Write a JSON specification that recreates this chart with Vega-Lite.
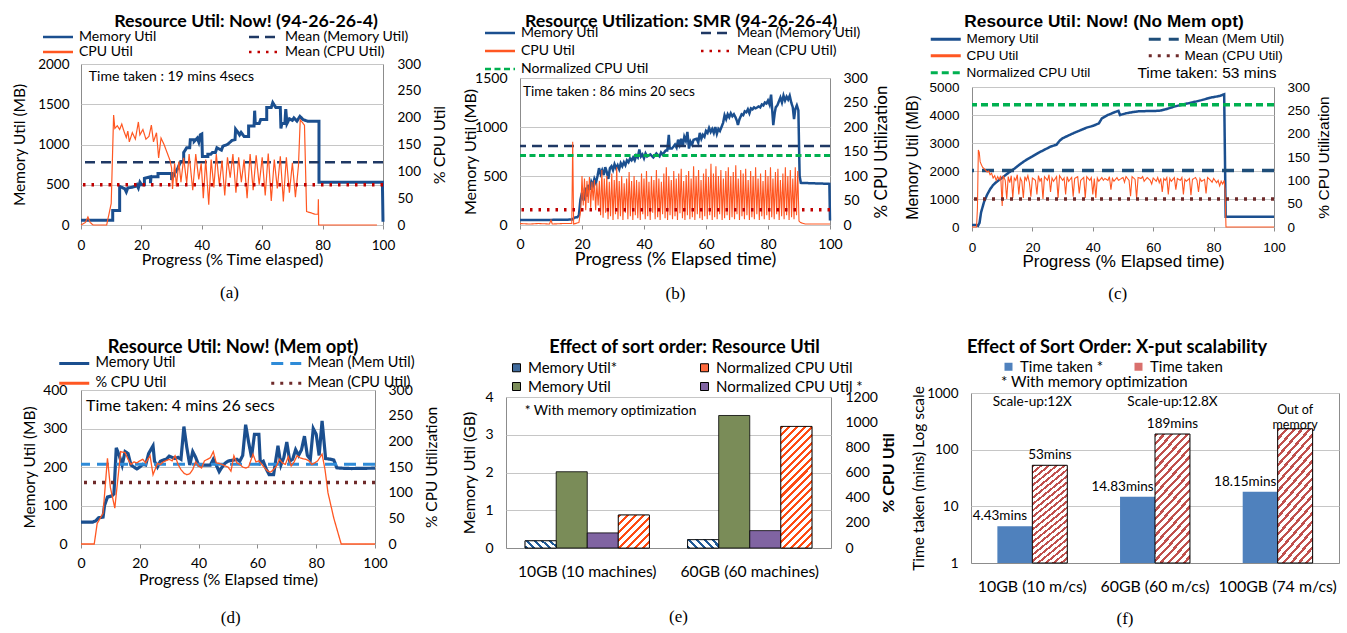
{
"$schema": "https://vega.github.io/schema/vega-lite/v6.json",
"padding": {"left": 11, "top": 11, "right": 5, "bottom": 5},
"background": "white",
"config": {
  "font": "Lato",
  "view": {"stroke": "#8C8C8C", "strokeWidth": 1},
  "axis": {"labelColor": "#000", "titleColor": "#000", "titleFontWeight": "normal", "labelFontSize": 13.5, "titleFontSize": 15.5, "gridColor": "#C6C6C6", "domain": false, "labelFlush": false, "labelOverlap": false, "tickColor": "#8C8C8C"},
  "title": {"fontSize": 17.8, "fontWeight": "bold", "color": "#000", "anchor": "middle"},
  "legend": {"labelColor": "#000", "padding": 0, "labelLimit": 300, "direction": "horizontal"}
},
"datasets": {
  "a_mem": [{"x":0,"y":60},{"x":10.5,"y":60},{"x":10.5,"y":180},{"x":12.8,"y":180},{"x":12.8,"y":480},{"x":14.5,"y":450},{"x":15,"y":410},{"x":15.5,"y":460},{"x":17,"y":470},{"x":18,"y":480},{"x":18.5,"y":500},{"x":19,"y":460},{"x":19.5,"y":530},{"x":20,"y":500},{"x":21,"y":500},{"x":21,"y":580},{"x":23,"y":600},{"x":23,"y":520},{"x":23.2,"y":600},{"x":25.5,"y":600},{"x":25.5,"y":640},{"x":30,"y":640},{"x":30,"y":560},{"x":31,"y":640},{"x":32,"y":700},{"x":33,"y":790},{"x":34,"y":790},{"x":34,"y":900},{"x":35,"y":960},{"x":36,"y":960},{"x":36.2,"y":1060},{"x":37.5,"y":1060},{"x":37.5,"y":1040},{"x":38.5,"y":1080},{"x":39,"y":1030},{"x":39.5,"y":1120},{"x":40,"y":1130},{"x":40.2,"y":850},{"x":42,"y":850},{"x":42,"y":880},{"x":43,"y":880},{"x":43.5,"y":900},{"x":44.5,"y":900},{"x":45,"y":960},{"x":46,"y":940},{"x":46.5,"y":930},{"x":47,"y":980},{"x":48.5,"y":1000},{"x":50,"y":1050},{"x":51,"y":1060},{"x":51.2,"y":1190},{"x":52,"y":1150},{"x":52.5,"y":1120},{"x":53,"y":1150},{"x":54,"y":1100},{"x":55.5,"y":1100},{"x":55.5,"y":1230},{"x":57.3,"y":1230},{"x":57.5,"y":1420},{"x":57.7,"y":1260},{"x":59,"y":1260},{"x":59.5,"y":1310},{"x":61.5,"y":1310},{"x":61.5,"y":1460},{"x":63,"y":1460},{"x":63.5,"y":1520},{"x":64.5,"y":1460},{"x":66,"y":1460},{"x":66.2,"y":1200},{"x":66.5,"y":1260},{"x":67.5,"y":1260},{"x":67.8,"y":1440},{"x":68.2,"y":1260},{"x":69,"y":1320},{"x":70,"y":1300},{"x":70.5,"y":1330},{"x":71.5,"y":1290},{"x":72.5,"y":1350},{"x":73.5,"y":1310},{"x":75,"y":1290},{"x":78.8,"y":1290},{"x":78.8,"y":530},{"x":99.8,"y":530},{"x":100,"y":40}],
  "a_cpu": [{"x":0,"y":0},{"x":1.5,"y":5},{"x":2.3,"y":15},{"x":3,"y":5},{"x":4,"y":0},{"x":8.5,"y":0},{"x":10,"y":40},{"x":10.8,"y":205},{"x":11.2,"y":180},{"x":12,"y":185},{"x":12.8,"y":178},{"x":13.5,"y":188},{"x":14.2,"y":175},{"x":15,"y":163},{"x":15.5,"y":175},{"x":16,"y":155},{"x":17,"y":172},{"x":18,"y":160},{"x":19,"y":192},{"x":19.5,"y":168},{"x":20.5,"y":178},{"x":21.5,"y":160},{"x":22.5,"y":165},{"x":23.3,"y":186},{"x":24,"y":155},{"x":25,"y":172},{"x":25.7,"y":125},{"x":26.5,"y":162},{"x":27.5,"y":150},{"x":28.5,"y":135},{"x":29.5,"y":120},{"x":30,"y":106},{"x":30.3,"y":67},{"x":31,"y":115},{"x":31.6,"y":72},{"x":32.4,"y":118},{"x":33.1,"y":80},{"x":34,"y":125},{"x":35,"y":78},{"x":35.8,"y":132},{"x":37,"y":65},{"x":38,"y":132},{"x":39,"y":85},{"x":39.8,"y":115},{"x":40.5,"y":50},{"x":41.3,"y":122},{"x":42.3,"y":38},{"x":43.1,"y":122},{"x":44,"y":70},{"x":44.8,"y":132},{"x":45.8,"y":75},{"x":46.7,"y":120},{"x":47.6,"y":55},{"x":48.5,"y":126},{"x":49.4,"y":88},{"x":50.3,"y":132},{"x":51.3,"y":60},{"x":52.2,"y":126},{"x":53.1,"y":80},{"x":54,"y":122},{"x":55,"y":50},{"x":56,"y":132},{"x":57,"y":65},{"x":58,"y":130},{"x":59,"y":75},{"x":60,"y":126},{"x":61,"y":55},{"x":62,"y":133},{"x":63,"y":45},{"x":64,"y":122},{"x":65,"y":68},{"x":66,"y":128},{"x":67,"y":44},{"x":68,"y":126},{"x":69,"y":60},{"x":70,"y":116},{"x":71,"y":52},{"x":72,"y":110},{"x":72.6,"y":196},{"x":74,"y":186},{"x":74.7,"y":25},{"x":76,"y":23},{"x":77.5,"y":20},{"x":78.5,"y":20},{"x":78.6,"y":48},{"x":78.7,"y":0},{"x":98,"y":0}],
  "b_mem": [{"x":0,"y":50},{"x":10,"y":52},{"x":16,"y":55},{"x":17,"y":58},{"x":17.5,"y":75},{"x":18.5,"y":80},{"x":19,"y":100},{"x":19.5,"y":260},{"x":20,"y":330},{"x":20.5,"y":250},{"x":21,"y":380},{"x":21.5,"y":290},{"x":22,"y":410},{"x":22.5,"y":360},{"x":23,"y":440},{"x":23.5,"y":400},{"x":24,"y":470},{"x":24.5,"y":430},{"x":25,"y":500},{"x":25.5,"y":580},{"x":26,"y":520},{"x":26.5,"y":560},{"x":27,"y":510},{"x":27.5,"y":590},{"x":28,"y":540},{"x":28.5,"y":470},{"x":29,"y":580},{"x":29.5,"y":600},{"x":30,"y":560},{"x":30.5,"y":620},{"x":31,"y":580},{"x":31.5,"y":610},{"x":32,"y":570},{"x":32.5,"y":630},{"x":33,"y":600},{"x":33.5,"y":640},{"x":34,"y":610},{"x":34.5,"y":660},{"x":35,"y":640},{"x":35.5,"y":680},{"x":36,"y":660},{"x":36.5,"y":690},{"x":37,"y":660},{"x":37.5,"y":710},{"x":38,"y":690},{"x":38.5,"y":770},{"x":39,"y":700},{"x":39.5,"y":720},{"x":40,"y":680},{"x":40.5,"y":730},{"x":41,"y":700},{"x":42,"y":720},{"x":43,"y":690},{"x":44,"y":730},{"x":45,"y":700},{"x":45.5,"y":740},{"x":46,"y":720},{"x":47,"y":760},{"x":47.5,"y":760},{"x":48,"y":920},{"x":48.3,"y":780},{"x":49,"y":780},{"x":50,"y":820},{"x":50.5,"y":790},{"x":51,"y":870},{"x":51.5,"y":820},{"x":52,"y":880},{"x":52.5,"y":800},{"x":53,"y":900},{"x":53.5,"y":860},{"x":54,"y":950},{"x":54.5,"y":780},{"x":55,"y":850},{"x":55.5,"y":820},{"x":56,"y":870},{"x":57,"y":880},{"x":57.5,"y":840},{"x":58,"y":940},{"x":58.5,"y":880},{"x":59,"y":920},{"x":59.5,"y":900},{"x":60,"y":960},{"x":60.5,"y":940},{"x":61,"y":990},{"x":61.5,"y":950},{"x":62,"y":980},{"x":62.5,"y":940},{"x":63,"y":1000},{"x":63.5,"y":930},{"x":64,"y":980},{"x":64.5,"y":960},{"x":65,"y":1000},{"x":65.5,"y":1040},{"x":66,"y":1120},{"x":66.5,"y":1080},{"x":67,"y":1130},{"x":67.5,"y":1100},{"x":68,"y":1140},{"x":68.5,"y":1110},{"x":69,"y":1130},{"x":69.5,"y":1100},{"x":70,"y":1060},{"x":70.3,"y":1020},{"x":70.8,"y":1080},{"x":71.5,"y":1130},{"x":72,"y":1120},{"x":72.5,"y":1160},{"x":73,"y":1150},{"x":73.5,"y":1180},{"x":74,"y":1140},{"x":74.5,"y":1190},{"x":75,"y":1180},{"x":75.5,"y":1200},{"x":76,"y":1190},{"x":77,"y":1210},{"x":77.5,"y":1200},{"x":78,"y":1230},{"x":78.5,"y":1220},{"x":79,"y":1250},{"x":79.5,"y":1240},{"x":80,"y":1270},{"x":80.5,"y":1230},{"x":81,"y":1330},{"x":81.3,"y":1200},{"x":81.7,"y":1020},{"x":82.2,"y":1150},{"x":82.5,"y":1200},{"x":83,"y":1220},{"x":83.5,"y":1260},{"x":84,"y":1300},{"x":84.5,"y":1250},{"x":85,"y":1320},{"x":85.5,"y":1270},{"x":86,"y":1310},{"x":86.5,"y":1280},{"x":87,"y":1320},{"x":87.5,"y":1250},{"x":88,"y":1200},{"x":88.4,"y":1080},{"x":88.8,"y":1180},{"x":89.3,"y":1220},{"x":89.8,"y":1170},{"x":90.2,"y":500},{"x":90.6,"y":430},{"x":95,"y":425},{"x":99.8,"y":420},{"x":100,"y":45}],
  "b_cpu": [{"x":0,"y":3},{"x":3,"y":2},{"x":6,"y":3},{"x":9.5,"y":2},{"x":10,"y":10},{"x":10.4,"y":2},{"x":14,"y":3},{"x":16.7,"y":3},{"x":17,"y":170},{"x":17.3,"y":2},{"x":19,"y":5},{"x":19.6,"y":30},{"x":20.0,"y":100},{"x":20.4,"y":40},{"x":20.8,"y":95},{"x":21.2,"y":30},{"x":21.6,"y":90},{"x":22.0,"y":45},{"x":22.4,"y":98},{"x":22.8,"y":35},{"x":23.2,"y":88},{"x":23.6,"y":50},{"x":24.0,"y":92},{"x":24.4,"y":30},{"x":24.8,"y":85},{"x":25.2,"y":40},{"x":25.6,"y":90},{"x":26.0,"y":20},{"x":26.4,"y":112},{"x":26.8,"y":15},{"x":27.2,"y":95},{"x":27.6,"y":25},{"x":28.0,"y":100},{"x":28.4,"y":12},{"x":28.8,"y":88},{"x":29.2,"y":18},{"x":29.6,"y":105},{"x":30.0,"y":10},{"x":30.4,"y":92},{"x":30.8,"y":22},{"x":31.2,"y":118},{"x":31.6,"y":12},{"x":32.0,"y":90},{"x":32.4,"y":18},{"x":32.8,"y":100},{"x":33.2,"y":10},{"x":33.6,"y":85},{"x":34.0,"y":25},{"x":34.4,"y":95},{"x":34.8,"y":12},{"x":35.2,"y":108},{"x":35.6,"y":18},{"x":36.0,"y":90},{"x":36.4,"y":10},{"x":36.8,"y":100},{"x":37.2,"y":20},{"x":37.6,"y":92},{"x":38.0,"y":14},{"x":38.4,"y":88},{"x":38.8,"y":10},{"x":39.2,"y":105},{"x":39.6,"y":22},{"x":40.0,"y":95},{"x":40.4,"y":12},{"x":40.8,"y":110},{"x":41.2,"y":18},{"x":41.6,"y":88},{"x":42.0,"y":10},{"x":42.4,"y":100},{"x":42.8,"y":25},{"x":43.2,"y":92},{"x":43.6,"y":12},{"x":44.0,"y":112},{"x":44.4,"y":16},{"x":44.8,"y":95},{"x":45.2,"y":10},{"x":45.6,"y":88},{"x":46.0,"y":22},{"x":46.4,"y":105},{"x":46.8,"y":14},{"x":47.2,"y":118},{"x":47.6,"y":10},{"x":48.0,"y":100},{"x":48.4,"y":20},{"x":48.8,"y":92},{"x":49.2,"y":12},{"x":49.6,"y":110},{"x":50.0,"y":18},{"x":50.4,"y":95},{"x":50.8,"y":10},{"x":51.2,"y":105},{"x":51.6,"y":24},{"x":52.0,"y":115},{"x":52.4,"y":14},{"x":52.8,"y":90},{"x":53.2,"y":10},{"x":53.6,"y":102},{"x":54.0,"y":20},{"x":54.4,"y":110},{"x":54.8,"y":12},{"x":55.2,"y":95},{"x":55.6,"y":16},{"x":56.0,"y":120},{"x":56.4,"y":10},{"x":56.8,"y":100},{"x":57.2,"y":22},{"x":57.6,"y":112},{"x":58.0,"y":14},{"x":58.4,"y":92},{"x":58.8,"y":10},{"x":59.2,"y":105},{"x":59.6,"y":18},{"x":60.0,"y":115},{"x":60.4,"y":12},{"x":60.8,"y":98},{"x":61.2,"y":20},{"x":61.6,"y":125},{"x":62.0,"y":10},{"x":62.4,"y":105},{"x":62.8,"y":16},{"x":63.2,"y":120},{"x":63.6,"y":12},{"x":64.0,"y":100},{"x":64.4,"y":22},{"x":64.8,"y":112},{"x":65.2,"y":10},{"x":65.6,"y":95},{"x":66.0,"y":14},{"x":66.4,"y":110},{"x":66.8,"y":20},{"x":67.2,"y":118},{"x":67.6,"y":10},{"x":68.0,"y":100},{"x":68.4,"y":16},{"x":68.8,"y":108},{"x":69.2,"y":12},{"x":69.6,"y":122},{"x":70.0,"y":22},{"x":70.4,"y":95},{"x":70.8,"y":10},{"x":71.2,"y":112},{"x":71.6,"y":18},{"x":72.0,"y":105},{"x":72.4,"y":12},{"x":72.8,"y":115},{"x":73.2,"y":20},{"x":73.6,"y":92},{"x":74.0,"y":10},{"x":74.4,"y":110},{"x":74.8,"y":16},{"x":75.2,"y":100},{"x":75.6,"y":12},{"x":76.0,"y":118},{"x":76.4,"y":22},{"x":76.8,"y":95},{"x":77.2,"y":10},{"x":77.6,"y":105},{"x":78.0,"y":18},{"x":78.4,"y":90},{"x":78.8,"y":12},{"x":79.2,"y":112},{"x":79.6,"y":20},{"x":80.0,"y":100},{"x":80.4,"y":10},{"x":80.8,"y":118},{"x":81.2,"y":16},{"x":81.6,"y":95},{"x":82.0,"y":12},{"x":82.4,"y":108},{"x":82.8,"y":22},{"x":83.2,"y":115},{"x":83.6,"y":10},{"x":84.0,"y":92},{"x":84.4,"y":18},{"x":84.8,"y":105},{"x":85.2,"y":12},{"x":85.6,"y":118},{"x":86.0,"y":20},{"x":86.4,"y":100},{"x":86.8,"y":10},{"x":87.2,"y":112},{"x":87.6,"y":16},{"x":88.0,"y":95},{"x":88.4,"y":12},{"x":88.8,"y":118},{"x":89.2,"y":20},{"x":89.6,"y":110},{"x":90.0,"y":8},{"x":90.5,"y":5},{"x":92,"y":2},{"x":100,"y":2}],
  "c_mem": [{"x":0,"y":70},{"x":1.5,"y":70},{"x":2,"y":40},{"x":2.5,"y":150},{"x":3,"y":520},{"x":4,"y":900},{"x":5,"y":1150},{"x":6,"y":1350},{"x":7,"y":1500},{"x":8,"y":1600},{"x":10,"y":1760},{"x":12,"y":1930},{"x":14,"y":2080},{"x":16,"y":2250},{"x":18,"y":2400},{"x":20,"y":2520},{"x":22,"y":2650},{"x":24,"y":2760},{"x":26,"y":2870},{"x":28,"y":2940},{"x":29,"y":3080},{"x":30,"y":3170},{"x":32,"y":3270},{"x":34,"y":3370},{"x":36,"y":3460},{"x":38,"y":3550},{"x":40,"y":3610},{"x":42,"y":3700},{"x":43,"y":3880},{"x":45,"y":4000},{"x":47,"y":4090},{"x":48.5,"y":4150},{"x":49,"y":4000},{"x":51,"y":4060},{"x":53,"y":4100},{"x":55,"y":4130},{"x":58,"y":4140},{"x":62,"y":4150},{"x":64,"y":4200},{"x":67,"y":4300},{"x":70,"y":4380},{"x":73,"y":4450},{"x":76,"y":4530},{"x":79,"y":4620},{"x":82,"y":4680},{"x":83.5,"y":4740},{"x":84,"y":370},{"x":100,"y":370}],
  "c_cpu": [{"x":0,"y":0},{"x":1.5,"y":0},{"x":1.8,"y":40},{"x":2.1,"y":165},{"x":2.4,"y":160},{"x":2.7,"y":140},{"x":3,"y":135},{"x":3.5,"y":128},{"x":4,"y":125},{"x":4.5,"y":122},{"x":5,"y":118},{"x":5.5,"y":120},{"x":6,"y":112},{"x":6.5,"y":115},{"x":7,"y":105},{"x":7.5,"y":110},{"x":8,"y":100},{"x":8.5,"y":108},{"x":9,"y":102},{"x":9.5,"y":110},{"x":10,"y":45},{"x":10.3,"y":110},{"x":11,"y":100},{"x":11.5,"y":60},{"x":12,"y":108},{"x":12.5,"y":95},{"x":13,"y":110},{"x":13.5,"y":62},{"x":14,"y":105},{"x":14.5,"y":100},{"x":15,"y":112},{"x":15.5,"y":70},{"x":16,"y":105},{"x":16.5,"y":98},{"x":17,"y":62},{"x":17.5,"y":108},{"x":18,"y":100},{"x":18.5,"y":110},{"x":19,"y":95},{"x":19.5,"y":65},{"x":20,"y":105},{"x":21,"y":100},{"x":21.5,"y":70},{"x":22,"y":110},{"x":22.5,"y":98},{"x":23,"y":105},{"x":23.5,"y":60},{"x":24,"y":108},{"x":25,"y":100},{"x":25.5,"y":112},{"x":26,"y":75},{"x":26.5,"y":105},{"x":27,"y":98},{"x":28,"y":108},{"x":28.5,"y":62},{"x":29,"y":110},{"x":30,"y":100},{"x":30.5,"y":105},{"x":31,"y":70},{"x":31.5,"y":108},{"x":32,"y":98},{"x":33,"y":106},{"x":33.5,"y":65},{"x":34,"y":104},{"x":35,"y":108},{"x":35.5,"y":72},{"x":36,"y":100},{"x":37,"y":106},{"x":37.5,"y":62},{"x":38,"y":108},{"x":39,"y":100},{"x":39.5,"y":106},{"x":40,"y":70},{"x":40.5,"y":104},{"x":41,"y":62},{"x":41.5,"y":105},{"x":42,"y":98},{"x":43,"y":106},{"x":43.5,"y":100},{"x":44,"y":104},{"x":45,"y":100},{"x":45.5,"y":108},{"x":46,"y":80},{"x":46.5,"y":104},{"x":47,"y":98},{"x":48,"y":106},{"x":48.5,"y":100},{"x":49,"y":102},{"x":50,"y":106},{"x":50.5,"y":96},{"x":51,"y":108},{"x":52,"y":100},{"x":52.5,"y":66},{"x":53,"y":108},{"x":54,"y":102},{"x":54.5,"y":62},{"x":55,"y":106},{"x":56,"y":104},{"x":56.5,"y":108},{"x":57,"y":98},{"x":58,"y":106},{"x":59,"y":100},{"x":59.5,"y":92},{"x":60,"y":105},{"x":61,"y":98},{"x":61.5,"y":106},{"x":62,"y":95},{"x":62.5,"y":104},{"x":63,"y":75},{"x":63.5,"y":104},{"x":64,"y":100},{"x":64.5,"y":106},{"x":65,"y":70},{"x":65.5,"y":104},{"x":66,"y":98},{"x":67,"y":106},{"x":67.5,"y":80},{"x":68,"y":104},{"x":69,"y":100},{"x":69.5,"y":106},{"x":70,"y":70},{"x":70.5,"y":102},{"x":71,"y":98},{"x":72,"y":104},{"x":72.5,"y":68},{"x":73,"y":102},{"x":74,"y":106},{"x":74.5,"y":100},{"x":75,"y":75},{"x":75.5,"y":104},{"x":76,"y":98},{"x":77,"y":102},{"x":77.5,"y":72},{"x":78,"y":106},{"x":79,"y":100},{"x":79.5,"y":96},{"x":80,"y":104},{"x":81,"y":95},{"x":81.5,"y":100},{"x":82,"y":88},{"x":82.5,"y":98},{"x":83,"y":92},{"x":83.5,"y":100},{"x":83.8,"y":80},{"x":84.1,"y":0},{"x":100,"y":0}],
  "d_mem": [{"x":0,"y":57},{"x":4,"y":57},{"x":5,"y":60},{"x":6,"y":68},{"x":7.5,"y":70},{"x":8,"y":100},{"x":9,"y":122},{"x":10.5,"y":125},{"x":11.2,"y":130},{"x":12,"y":250},{"x":13,"y":230},{"x":14,"y":205},{"x":15,"y":240},{"x":16,"y":235},{"x":17,"y":205},{"x":18,"y":200},{"x":19,"y":195},{"x":20,"y":200},{"x":21,"y":207},{"x":22,"y":205},{"x":23,"y":235},{"x":24.5,"y":255},{"x":25,"y":215},{"x":26,"y":200},{"x":27,"y":215},{"x":28,"y":218},{"x":29,"y":220},{"x":30,"y":228},{"x":31,"y":225},{"x":32,"y":222},{"x":33,"y":225},{"x":34,"y":220},{"x":35,"y":305},{"x":36,"y":250},{"x":37,"y":205},{"x":38,"y":240},{"x":39,"y":225},{"x":40,"y":205},{"x":41,"y":205},{"x":42,"y":205},{"x":43,"y":205},{"x":44,"y":205},{"x":45,"y":220},{"x":46,"y":205},{"x":47,"y":188},{"x":48,"y":200},{"x":49,"y":210},{"x":50,"y":215},{"x":51,"y":217},{"x":52,"y":218},{"x":53,"y":220},{"x":54,"y":215},{"x":55,"y":230},{"x":56,"y":310},{"x":57,"y":265},{"x":58,"y":225},{"x":59,"y":285},{"x":60.5,"y":285},{"x":61,"y":210},{"x":62,"y":215},{"x":63,"y":195},{"x":64,"y":180},{"x":65.5,"y":180},{"x":66,"y":205},{"x":67,"y":255},{"x":68,"y":205},{"x":69,"y":225},{"x":70,"y":265},{"x":71,"y":215},{"x":72,"y":220},{"x":73,"y":245},{"x":74,"y":230},{"x":75,"y":245},{"x":76,"y":280},{"x":77,"y":230},{"x":78,"y":220},{"x":79,"y":300},{"x":80,"y":285},{"x":81,"y":230},{"x":82,"y":320},{"x":83.2,"y":222},{"x":85,"y":220},{"x":86,"y":218},{"x":87,"y":198},{"x":88,"y":197},{"x":92,"y":196},{"x":100,"y":197}],
  "d_cpu": [{"x":0,"y":0},{"x":4.5,"y":0},{"x":5.5,"y":40},{"x":7.5,"y":60},{"x":9,"y":167},{"x":10,"y":110},{"x":11.5,"y":70},{"x":13.5,"y":180},{"x":15,"y":178},{"x":16,"y":165},{"x":17,"y":155},{"x":18,"y":160},{"x":19,"y":158},{"x":20,"y":162},{"x":21,"y":165},{"x":22,"y":158},{"x":23.5,"y":172},{"x":24.5,"y":135},{"x":26,"y":157},{"x":27,"y":155},{"x":28,"y":160},{"x":30,"y":165},{"x":31,"y":162},{"x":32,"y":172},{"x":33,"y":155},{"x":34,"y":145},{"x":35,"y":138},{"x":36,"y":135},{"x":37,"y":137},{"x":38,"y":145},{"x":39,"y":160},{"x":40,"y":152},{"x":41,"y":148},{"x":42,"y":162},{"x":43,"y":165},{"x":44,"y":168},{"x":45,"y":180},{"x":46,"y":158},{"x":47,"y":157},{"x":48,"y":155},{"x":49,"y":152},{"x":50,"y":150},{"x":51,"y":142},{"x":52,"y":172},{"x":53,"y":158},{"x":54,"y":155},{"x":55,"y":150},{"x":56,"y":148},{"x":57,"y":150},{"x":58.5,"y":175},{"x":59.5,"y":160},{"x":60.5,"y":162},{"x":61.5,"y":155},{"x":62.5,"y":148},{"x":63.5,"y":142},{"x":64.5,"y":140},{"x":65.5,"y":145},{"x":66.5,"y":152},{"x":67.5,"y":165},{"x":68.5,"y":158},{"x":69.5,"y":155},{"x":70.5,"y":170},{"x":71.5,"y":152},{"x":72.5,"y":160},{"x":73.5,"y":172},{"x":74.5,"y":168},{"x":75.5,"y":166},{"x":76.5,"y":165},{"x":77.5,"y":162},{"x":78.5,"y":155},{"x":79.5,"y":158},{"x":80.5,"y":162},{"x":82,"y":175},{"x":83,"y":145},{"x":84,"y":100},{"x":86,"y":50},{"x":88.5,"y":0},{"x":100,"y":0}],
  "e_mem": [{"g":"10GB (10 machines)","s":"Memory Util*","v":0.19},{"g":"10GB (10 machines)","s":"Memory Util","v":2.02},{"g":"60GB (60 machines)","s":"Memory Util*","v":0.22},{"g":"60GB (60 machines)","s":"Memory Util","v":3.51}],
  "e_cpu": [{"g":"10GB (10 machines)","s":"Normalized CPU Util *","v":120},{"g":"10GB (10 machines)","s":"Normalized CPU Util","v":262},{"g":"60GB (60 machines)","s":"Normalized CPU Util *","v":138},{"g":"60GB (60 machines)","s":"Normalized CPU Util","v":966}],
  "f": [{"g":"10GB (10 m/cs)","s":"Time taken *","v":4.43,"lbl":"4.43mins"},{"g":"10GB (10 m/cs)","s":"Time taken","v":53,"lbl":"53mins"},{"g":"60GB (60 m/cs)","s":"Time taken *","v":14.83,"lbl":"14.83mins"},{"g":"60GB (60 m/cs)","s":"Time taken","v":189,"lbl":"189mins"},{"g":"100GB (74 m/cs)","s":"Time taken *","v":18.15,"lbl":"18.15mins"},{"g":"100GB (74 m/cs)","s":"Time taken","v":234,"lbl":""}]
},
"resolve": {"scale": {"color": "independent", "strokeDash": "independent", "xOffset": "independent", "x": "independent", "y": "independent"}, "legend": {"color": "independent", "strokeDash": "independent"}},
"spacing": 34,
"vconcat": [
 {"resolve": {"scale": {"color": "independent", "strokeDash": "independent", "xOffset": "independent", "x": "independent", "y": "independent"}, "legend": {"color": "independent", "strokeDash": "independent"}},
  "spacing": 13, "columns": 3, "align": "none",
  "concat": [
  {"title": {"text": "(a)", "orient": "bottom", "font": "Liberation Serif", "fontSize": 17, "fontWeight": "normal", "offset": 17},
   "spacing": 0,
   "resolve": {"scale": {"color": "independent", "strokeDash": "independent"}, "legend": {"color": "independent", "strokeDash": "independent"}},
   "vconcat": [
   {"width": 1, "height": 1, "data": {"values": []}, "mark": "point", "view": {"stroke": null}},
   {
    "width": 302, "height": 161,
    "title": {"text": "Resource Util: Now! (94-26-26-4)", "dx": 14, "offset": -1},
    "layer": [
     {"layer": [
      {"data": {"name": "a_mem"}, "mark": {"type": "line", "strokeWidth": 3},
       "encoding": {
        "x": {"field": "x", "type": "quantitative", "scale": {"domain": [0, 100], "nice": false}, "axis": {"title": "Progress (% Time elasped)", "values": [0,20,40,60,80,100], "grid": false, "ticks": true, "tickSize": 4, "labelPadding": 9, "titlePadding": 0, "titleFontSize": 16}},
        "y": {"field": "y", "type": "quantitative", "scale": {"domain": [0, 2000], "nice": false}, "axis": {"title": "Memory Util (MB)", "format": "d", "values": [0,500,1000,1500,2000], "tickCount": 20, "labelOverlap": false, "grid": true, "ticks": false, "labelPadding": 12, "minExtent": 44, "maxExtent": 44, "titlePadding": 10}},
        "order": {"value": null},
        "color": {"datum": "Memory Util", "scale": {"domain": ["Memory Util","Mean (Memory Util)","CPU Util","Mean (CPU Util)"], "range": ["#1B4F8F","#1F3864","#FF5722","#C00000"]},
          "legend": {"title": null, "orient": "none", "direction": "horizontal", "legendX": -30, "legendY": -34, "columns": 2, "columnPadding": 87, "rowPadding": 1, "symbolType": "M-3,0H3", "symbolSize": 100, "symbolStrokeWidth": 2.5, "labelFontSize": 14, "labelOffset": 14}},
        "strokeDash": {"datum": "Memory Util", "scale": {"domain": ["Memory Util","Mean (Memory Util)","CPU Util","Mean (CPU Util)"], "range": [[1,0],[10,6],[1,0],[2.5,6]]},
          "legend": {"title": null, "orient": "none", "direction": "horizontal", "legendX": -30, "legendY": -34, "columns": 2, "columnPadding": 87, "rowPadding": 1, "symbolType": "M-3,0H3", "symbolSize": 100, "symbolStrokeWidth": 2.5, "labelFontSize": 14, "labelOffset": 14}}
       }},
      {"data": {"values": [{"v": 780}]}, "mark": {"type": "rule", "strokeWidth": 2.5},
       "encoding": {"y": {"field": "v", "type": "quantitative"}, "color": {"datum": "Mean (Memory Util)"}, "strokeDash": {"datum": "Mean (Memory Util)"}}},
      {"data": {"values": [{"t": "Time taken : 19 mins 4secs"}]}, "mark": {"type": "text", "align": "left", "baseline": "middle", "fontSize": 14},
       "encoding": {"x": {"datum": 2.6, "type": "quantitative"}, "y": {"datum": 1840, "type": "quantitative"}, "text": {"field": "t"}}}
     ]},
     {"layer": [
      {"data": {"name": "a_cpu"}, "mark": {"type": "line", "strokeWidth": 1.2},
       "encoding": {
        "x": {"field": "x", "type": "quantitative"},
        "y": {"field": "y", "type": "quantitative", "scale": {"domain": [0, 300], "nice": false}, "axis": {"orient": "right", "title": "% CPU Util", "values": [0,50,100,150,200,250,300], "tickCount": 20, "labelOverlap": false, "grid": false, "ticks": false, "labelPadding": 14, "minExtent": 36, "maxExtent": 36, "titlePadding": 12, "titleAngle": 270, "titleBaseline": "top", "titleFontSize": 16}},
        "order": {"value": null},
        "color": {"datum": "CPU Util"}, "strokeDash": {"datum": "CPU Util"}}},
      {"data": {"values": [{"v": 75}]}, "mark": {"type": "rule", "strokeWidth": 3.5},
       "encoding": {"y": {"field": "v", "type": "quantitative"}, "color": {"datum": "Mean (CPU Util)"}, "strokeDash": {"datum": "Mean (CPU Util)"}}}
     ]}
    ],
    "resolve": {"scale": {"y": "independent"}}
   }]
  },
  {"title": {"text": "(b)", "orient": "bottom", "font": "Liberation Serif", "fontSize": 17, "fontWeight": "normal", "offset": 17},
   "spacing": 0,
   "resolve": {"scale": {"color": "independent", "strokeDash": "independent"}, "legend": {"color": "independent", "strokeDash": "independent"}},
   "vconcat": [
   {"width": 1, "height": 1, "data": {"values": []}, "mark": "point", "view": {"stroke": null}},
   {
    "width": 310, "height": 147,
    "title": {"text": "Resource Utilization: SMR (94-26-26-4)", "dx": 6, "offset": -5},
    "layer": [
     {"layer": [
      {"data": {"name": "b_mem"}, "mark": {"type": "line", "strokeWidth": 2.5},
       "encoding": {
        "x": {"field": "x", "type": "quantitative", "scale": {"domain": [0, 100], "nice": false}, "axis": {"title": "Progress (% Elapsed time)", "values": [0,20,40,60,80,100], "grid": false, "ticks": true, "tickSize": 4, "labelPadding": 8, "titlePadding": -1, "labelFontSize": 14, "titleFontSize": 18}},
        "y": {"field": "y", "type": "quantitative", "scale": {"domain": [0, 1500], "nice": false}, "axis": {"title": "Memory Util (MB)", "format": "d", "values": [0,500,1000,1500], "tickCount": 20, "labelOverlap": false, "grid": true, "ticks": false, "labelPadding": 13, "minExtent": 43, "maxExtent": 43, "titlePadding": -1, "titleFontSize": 16, "labelFontSize": 14}},
        "order": {"value": null},
        "color": {"datum": "Memory Util", "scale": {"domain": ["Memory Util","Mean (Memory Util)","CPU Util","Mean (CPU Util)","Normalized CPU Util"], "range": ["#1B4F8F","#1F3864","#FF5722","#C00000","#00B050"]},
          "legend": {"title": null, "orient": "none", "direction": "horizontal", "legendX": -27, "legendY": -52, "columns": 2, "columnPadding": 47, "rowPadding": 4, "symbolType": "M-3,0H3", "symbolSize": 100, "symbolStrokeWidth": 2.5, "labelFontSize": 14, "labelOffset": 14}},
        "strokeDash": {"datum": "Memory Util", "scale": {"domain": ["Memory Util","Mean (Memory Util)","CPU Util","Mean (CPU Util)","Normalized CPU Util"], "range": [[1,0],[10,6],[1,0],[2.5,6],[6,3.5]]},
          "legend": {"title": null, "orient": "none", "direction": "horizontal", "legendX": -27, "legendY": -52, "columns": 2, "columnPadding": 47, "rowPadding": 4, "symbolType": "M-3,0H3", "symbolSize": 100, "symbolStrokeWidth": 2.5, "labelFontSize": 14, "labelOffset": 14}}
       }},
      {"data": {"values": [{"v": 805}]}, "mark": {"type": "rule", "strokeWidth": 2.5},
       "encoding": {"y": {"field": "v", "type": "quantitative"}, "color": {"datum": "Mean (Memory Util)"}, "strokeDash": {"datum": "Mean (Memory Util)"}}},
      {"data": {"values": [{"t": "Time taken : 86 mins 20 secs"}]}, "mark": {"type": "text", "align": "left", "baseline": "middle", "fontSize": 13.6},
       "encoding": {"x": {"datum": 1.0, "type": "quantitative"}, "y": {"datum": 1357, "type": "quantitative"}, "text": {"field": "t"}}}
     ]},
     {"layer": [
      {"data": {"name": "b_cpu"}, "mark": {"type": "line", "strokeWidth": 1.1},
       "encoding": {
        "x": {"field": "x", "type": "quantitative"},
        "y": {"field": "y", "type": "quantitative", "scale": {"domain": [0, 300], "nice": false}, "axis": {"orient": "right", "title": "% CPU Utilization", "values": [0,50,100,150,200,250,300], "tickCount": 20, "labelOverlap": false, "grid": false, "ticks": false, "labelPadding": 13, "minExtent": 37, "maxExtent": 37, "titlePadding": 6, "titleAngle": 270, "titleBaseline": "top", "titleFontSize": 17, "labelFontSize": 14}},
        "order": {"value": null},
        "color": {"datum": "CPU Util"}, "strokeDash": {"datum": "CPU Util"}}},
      {"data": {"values": [{"v": 142}]}, "mark": {"type": "rule", "strokeWidth": 3},
       "encoding": {"y": {"field": "v", "type": "quantitative"}, "color": {"datum": "Normalized CPU Util"}, "strokeDash": {"datum": "Normalized CPU Util"}}},
      {"data": {"values": [{"v": 31}]}, "mark": {"type": "rule", "strokeWidth": 3.5},
       "encoding": {"y": {"field": "v", "type": "quantitative"}, "color": {"datum": "Mean (CPU Util)"}, "strokeDash": {"datum": "Mean (CPU Util)"}}}
     ]}
    ],
    "resolve": {"scale": {"y": "independent"}}
   }]
  },
  {"title": {"text": "(c)", "orient": "bottom", "font": "Liberation Serif", "fontSize": 17, "fontWeight": "normal", "offset": 16},
   "spacing": 0,
   "resolve": {"scale": {"color": "independent", "strokeDash": "independent"}, "legend": {"color": "independent", "strokeDash": "independent"}},
   "vconcat": [
   {"width": 1, "height": 1, "data": {"values": []}, "mark": "point", "view": {"stroke": null}},
   {
    "width": 302, "height": 140,
    "title": {"text": "Resource Util: Now! (No Mem opt)", "dx": -19, "offset": 2, "font": "Liberation Sans", "fontSize": 17.3},
    "layer": [
     {"layer": [
      {"data": {"name": "c_mem"}, "mark": {"type": "line", "strokeWidth": 2.5},
       "encoding": {
        "x": {"field": "x", "type": "quantitative", "scale": {"domain": [0, 100], "nice": false}, "axis": {"title": "Progress (% Elapsed time)", "values": [0,20,40,60,80,100], "grid": false, "ticks": true, "tickSize": 4, "labelPadding": 9, "titlePadding": 0, "labelFont": "Liberation Sans", "titleFont": "Liberation Sans", "labelFontSize": 13.5, "titleFontSize": 17}},
        "y": {"field": "y", "type": "quantitative", "scale": {"domain": [0, 5000], "nice": false}, "axis": {"title": "Memory Util (MB)", "format": "d", "values": [0,1000,2000,3000,4000,5000], "tickCount": 20, "labelOverlap": false, "grid": true, "ticks": false, "labelPadding": 13, "minExtent": 43, "maxExtent": 43, "titlePadding": 9, "labelFont": "Liberation Sans", "titleFont": "Liberation Sans", "titleFontSize": 16, "labelFontSize": 13.5}},
        "order": {"value": null},
        "color": {"datum": "Memory Util", "scale": {"domain": ["Memory Util","Mean (Mem Util)","CPU Util","Mean (CPU Util)","Normalized CPU Util"], "range": ["#1B4F8F","#1F4E79","#FF5722","#6E2A2A","#00B050"]},
          "legend": {"title": null, "orient": "none", "direction": "horizontal", "legendX": -33, "legendY": -55, "columns": 2, "columnPadding": 51, "rowPadding": 2, "symbolType": "M-3,0H3", "symbolSize": 100, "symbolStrokeWidth": 3, "labelFontSize": 13.5, "labelFont": "Liberation Sans", "labelOffset": 14}},
        "strokeDash": {"datum": "Memory Util", "scale": {"domain": ["Memory Util","Mean (Mem Util)","CPU Util","Mean (CPU Util)","Normalized CPU Util"], "range": [[1,0],[12,8],[1,0],[3,6],[7,4]]},
          "legend": {"title": null, "orient": "none", "direction": "horizontal", "legendX": -33, "legendY": -55, "columns": 2, "columnPadding": 51, "rowPadding": 2, "symbolType": "M-3,0H3", "symbolSize": 100, "symbolStrokeWidth": 3, "labelFontSize": 13.5, "labelFont": "Liberation Sans", "labelOffset": 14}}
       }},
      {"data": {"values": [{"v": 2020}]}, "mark": {"type": "rule", "strokeWidth": 3.5},
       "encoding": {"y": {"field": "v", "type": "quantitative"}, "color": {"datum": "Mean (Mem Util)"}, "strokeDash": {"datum": "Mean (Mem Util)"}}},
      {"data": {"values": [{"t": "Time taken: 53 mins"}]}, "mark": {"type": "text", "align": "center", "baseline": "middle", "fontSize": 15.5, "font": "Liberation Sans"},
       "encoding": {"x": {"datum": 77.8, "type": "quantitative"}, "y": {"datum": 5500, "type": "quantitative"}, "text": {"field": "t"}}}
     ]},
     {"layer": [
      {"data": {"name": "c_cpu"}, "mark": {"type": "line", "strokeWidth": 1.1},
       "encoding": {
        "x": {"field": "x", "type": "quantitative"},
        "y": {"field": "y", "type": "quantitative", "scale": {"domain": [0, 300], "nice": false}, "axis": {"orient": "right", "title": "% CPU Utilization", "values": [0,50,100,150,200,250,300], "tickCount": 20, "labelOverlap": false, "grid": false, "ticks": false, "labelPadding": 13, "minExtent": 36, "maxExtent": 36, "titlePadding": 6, "titleAngle": 270, "titleBaseline": "top", "labelFont": "Liberation Sans", "titleFont": "Liberation Sans", "titleFontSize": 15.5, "labelFontSize": 13.5}},
        "order": {"value": null},
        "color": {"datum": "CPU Util"}, "strokeDash": {"datum": "CPU Util"}}},
      {"data": {"values": [{"v": 262}]}, "mark": {"type": "rule", "strokeWidth": 3.5},
       "encoding": {"y": {"field": "v", "type": "quantitative"}, "color": {"datum": "Normalized CPU Util"}, "strokeDash": {"datum": "Normalized CPU Util"}}},
      {"data": {"values": [{"v": 60}]}, "mark": {"type": "rule", "strokeWidth": 3.5},
       "encoding": {"y": {"field": "v", "type": "quantitative"}, "color": {"datum": "Mean (CPU Util)"}, "strokeDash": {"datum": "Mean (CPU Util)"}}}
     ]}
    ],
    "resolve": {"scale": {"y": "independent"}}
   }]
  }
 ]},
 {"resolve": {"scale": {"color": "independent", "strokeDash": "independent", "xOffset": "independent", "x": "independent", "y": "independent"}, "legend": {"color": "independent", "strokeDash": "independent"}},
  "spacing": 20, "columns": 2, "align": "none",
  "concat": [
  {"title": {"text": "(d)", "orient": "bottom", "font": "Liberation Serif", "fontSize": 17, "fontWeight": "normal", "offset": 22},
   "spacing": 0,
   "resolve": {"scale": {"color": "independent", "strokeDash": "independent"}, "legend": {"color": "independent", "strokeDash": "independent"}},
   "vconcat": [
   {"width": 1, "height": 1, "data": {"values": []}, "mark": "point", "view": {"stroke": null}},
   {
    "width": 294, "height": 154,
    "title": {"text": "Resource Util: Now! (Mem opt)", "dx": 5, "offset": -1, "fontSize": 18.3},
    "layer": [
     {"layer": [
      {"data": {"name": "d_mem"}, "mark": {"type": "line", "strokeWidth": 3.2},
       "encoding": {
        "x": {"field": "x", "type": "quantitative", "scale": {"domain": [0, 100], "nice": false}, "axis": {"title": "Progress (% Elapsed time)", "values": [0,20,40,60,80,100], "grid": false, "ticks": true, "tickSize": 4, "labelPadding": 8, "titlePadding": 1, "labelFontSize": 14, "titleFontSize": 16}},
        "y": {"field": "y", "type": "quantitative", "scale": {"domain": [0, 400], "nice": false}, "axis": {"title": "Memory Util (MB)", "values": [0,100,200,300,400], "tickCount": 20, "labelOverlap": false, "grid": true, "ticks": false, "labelPadding": 14, "minExtent": 35, "maxExtent": 35, "titlePadding": 9, "titleFontSize": 15.5, "labelFontSize": 14}},
        "order": {"value": null},
        "color": {"datum": "Memory Util", "scale": {"domain": ["Memory Util","Mean (Mem Util)","% CPU Util","Mean (CPU Util)"], "range": ["#1B4F8F","#2E8BD8","#FF5722","#6E2A2A"]},
          "legend": {"title": null, "orient": "none", "direction": "horizontal", "legendX": -14, "legendY": -34, "columns": 2, "columnPadding": 89, "rowPadding": 5, "symbolType": "M-3,0H3", "symbolSize": 100, "symbolStrokeWidth": 3, "labelFontSize": 14.5, "labelOffset": 14}},
        "strokeDash": {"datum": "Memory Util", "scale": {"domain": ["Memory Util","Mean (Mem Util)","% CPU Util","Mean (CPU Util)"], "range": [[1,0],[12,7],[1,0],[3,6]]},
          "legend": {"title": null, "orient": "none", "direction": "horizontal", "legendX": -14, "legendY": -34, "columns": 2, "columnPadding": 89, "rowPadding": 5, "symbolType": "M-3,0H3", "symbolSize": 100, "symbolStrokeWidth": 3, "labelFontSize": 14.5, "labelOffset": 14}}
       }},
      {"data": {"values": [{"v": 207}]}, "mark": {"type": "rule", "strokeWidth": 3},
       "encoding": {"y": {"field": "v", "type": "quantitative"}, "color": {"datum": "Mean (Mem Util)"}, "strokeDash": {"datum": "Mean (Mem Util)"}}},
      {"data": {"values": [{"t": "Time taken: 4 mins 26 secs"}]}, "mark": {"type": "text", "align": "left", "baseline": "middle", "fontSize": 16},
       "encoding": {"x": {"datum": 1.7, "type": "quantitative"}, "y": {"datum": 358, "type": "quantitative"}, "text": {"field": "t"}}}
     ]},
     {"layer": [
      {"data": {"name": "d_cpu"}, "mark": {"type": "line", "strokeWidth": 1.3},
       "encoding": {
        "x": {"field": "x", "type": "quantitative"},
        "y": {"field": "y", "type": "quantitative", "scale": {"domain": [0, 300], "nice": false}, "axis": {"orient": "right", "title": "% CPU Utilization", "values": [0,50,100,150,200,250,300], "tickCount": 20, "labelOverlap": false, "grid": false, "ticks": false, "labelPadding": 13, "minExtent": 34, "maxExtent": 34, "titlePadding": 15, "titleAngle": 270, "titleBaseline": "top", "titleFontSize": 15.5, "labelFontSize": 14}},
        "order": {"value": null},
        "color": {"datum": "% CPU Util"}, "strokeDash": {"datum": "% CPU Util"}}},
      {"data": {"values": [{"v": 120}]}, "mark": {"type": "rule", "strokeWidth": 3.5},
       "encoding": {"y": {"field": "v", "type": "quantitative"}, "color": {"datum": "Mean (CPU Util)"}, "strokeDash": {"datum": "Mean (CPU Util)"}}}
     ]}
    ],
    "resolve": {"scale": {"y": "independent"}}
   }]
  },
  {"resolve": {"scale": {"color": "independent", "strokeDash": "independent", "xOffset": "independent", "x": "independent", "y": "independent"}, "legend": {"color": "independent", "strokeDash": "independent"}},
   "spacing": 13, "columns": 2, "align": "none",
   "concat": [
   {"title": {"text": "(e)", "orient": "bottom", "font": "Liberation Serif", "fontSize": 17, "fontWeight": "normal", "offset": 30},
    "spacing": 0,
    "resolve": {"scale": {"color": "independent", "xOffset": "independent"}, "legend": {"color": "independent"}},
    "vconcat": [
    {"width": 1, "height": 1, "data": {"values": []}, "mark": "point", "view": {"stroke": null}},
    {
     "width": 325, "height": 151,
     "title": {"text": "Effect of sort order: Resource Util", "dx": 16, "offset": 3, "fontSize": 18.2},
     "layer": [
      {"layer": [
       {"data": {"name": "e_mem"}, "mark": {"type": "bar", "stroke": "#000", "strokeWidth": 0.8},
        "encoding": {
         "x": {"field": "g", "type": "nominal", "sort": null, "scale": {"paddingInner": 0.235, "paddingOuter": 0.1175}, "axis": {"title": null, "labelAngle": 0, "ticks": false, "labelPadding": 16, "labelFontSize": 15.7, "domain": true, "domainColor": "#8C8C8C"}},
         "xOffset": {"field": "s", "sort": null, "scale": {"domain": ["Memory Util*","Memory Util","Normalized CPU Util *","Normalized CPU Util"], "paddingInner": 0, "paddingOuter": 0}},
         "y": {"field": "v", "type": "quantitative", "scale": {"domain": [0, 4], "nice": false}, "axis": {"title": "Memory Util (GB)", "format": "d", "values": [0,1,2,3,4], "tickCount": 20, "labelOverlap": false, "grid": true, "ticks": false, "labelPadding": 13, "minExtent": 20, "maxExtent": 20, "titlePadding": 9, "titleFontSize": 16, "labelFontSize": 14}},
         "color": {"field": "s", "type": "nominal", "scale": {"domain": ["Memory Util*","Normalized CPU Util","Memory Util","Normalized CPU Util *"], "range": ["#3F6A9C","#FF6A3D","#7A8C58","#8064A2"]},
           "legend": {"title": null, "orient": "none", "direction": "horizontal", "legendX": 3, "legendY": -37, "columns": 2, "columnPadding": 79, "rowPadding": 3, "symbolType": "square", "symbolSize": 64, "symbolStrokeColor": "#000", "symbolStrokeWidth": 1, "labelFontSize": 15, "labelOffset": 4}}
        }},
       {"data": {"name": "e_mem"}, "transform": [{"filter": "datum.s == 'Memory Util*'"}],
        "mark": {"type": "bar", "stroke": "#000", "strokeWidth": 0.8, "fill": {"gradient": "linear", "x1": 0, "y1": 1, "x2": 1.18, "y2": 0.7, "stops": [{"offset":0,"color":"#215A96"},{"offset":0.08,"color":"#215A96"},{"offset":0.08,"color":"#ffffff"},{"offset":0.2,"color":"#ffffff"},{"offset":0.2,"color":"#215A96"},{"offset":0.28,"color":"#215A96"},{"offset":0.28,"color":"#ffffff"},{"offset":0.4,"color":"#ffffff"},{"offset":0.4,"color":"#215A96"},{"offset":0.48,"color":"#215A96"},{"offset":0.48,"color":"#ffffff"},{"offset":0.6,"color":"#ffffff"},{"offset":0.6,"color":"#215A96"},{"offset":0.68,"color":"#215A96"},{"offset":0.68,"color":"#ffffff"},{"offset":0.8,"color":"#ffffff"},{"offset":0.8,"color":"#215A96"},{"offset":0.88,"color":"#215A96"},{"offset":0.88,"color":"#ffffff"},{"offset":1,"color":"#ffffff"}]}},
        "encoding": {"x": {"field": "g", "type": "nominal", "sort": null}, "xOffset": {"field": "s", "sort": null}, "y": {"field": "v", "type": "quantitative"}}},
       {"data": {"values": [{"t": "* With memory optimization"}]}, "mark": {"type": "text", "align": "left", "baseline": "middle", "fontSize": 13.8, "dx": -16},
        "encoding": {"x": {"datum": "10GB (10 machines)"}, "xOffset": {"datum": "Memory Util*"}, "y": {"datum": 3.63, "type": "quantitative"}, "text": {"field": "t"}}}
      ]},
      {"layer": [
       {"data": {"name": "e_cpu"}, "mark": {"type": "bar", "stroke": "#000", "strokeWidth": 0.8},
        "encoding": {
         "x": {"field": "g", "type": "nominal", "sort": null},
         "xOffset": {"field": "s", "sort": null},
         "y": {"field": "v", "type": "quantitative", "scale": {"domain": [0, 1200], "nice": false}, "axis": {"orient": "right", "title": "% CPU Util", "format": "d", "values": [0,200,400,600,800,1000,1200], "tickCount": 20, "labelOverlap": false, "grid": false, "ticks": false, "labelPadding": 14, "minExtent": 44, "maxExtent": 44, "titlePadding": 5, "titleAngle": 270, "titleBaseline": "top", "titleFontSize": 16, "titleFontWeight": "bold", "labelFontSize": 14}},
         "color": {"field": "s", "type": "nominal"}
        }},
       {"data": {"name": "e_cpu"}, "transform": [{"filter": "datum.s == 'Normalized CPU Util' && datum.g == '10GB (10 machines)'"}],
        "mark": {"type": "bar", "stroke": "#000", "strokeWidth": 0.8, "fill": {"gradient": "linear", "x1": 0, "y1": 0, "x2": 0.968, "y2": 1.03, "stops": [{"offset":0,"color":"#FF4B12"},{"offset":0.05,"color":"#FF4B12"},{"offset":0.05,"color":"#ffffff"},{"offset":0.125,"color":"#ffffff"},{"offset":0.125,"color":"#FF4B12"},{"offset":0.175,"color":"#FF4B12"},{"offset":0.175,"color":"#ffffff"},{"offset":0.25,"color":"#ffffff"},{"offset":0.25,"color":"#FF4B12"},{"offset":0.3,"color":"#FF4B12"},{"offset":0.3,"color":"#ffffff"},{"offset":0.375,"color":"#ffffff"},{"offset":0.375,"color":"#FF4B12"},{"offset":0.425,"color":"#FF4B12"},{"offset":0.425,"color":"#ffffff"},{"offset":0.5,"color":"#ffffff"},{"offset":0.5,"color":"#FF4B12"},{"offset":0.55,"color":"#FF4B12"},{"offset":0.55,"color":"#ffffff"},{"offset":0.625,"color":"#ffffff"},{"offset":0.625,"color":"#FF4B12"},{"offset":0.675,"color":"#FF4B12"},{"offset":0.675,"color":"#ffffff"},{"offset":0.75,"color":"#ffffff"},{"offset":0.75,"color":"#FF4B12"},{"offset":0.8,"color":"#FF4B12"},{"offset":0.8,"color":"#ffffff"},{"offset":0.875,"color":"#ffffff"},{"offset":0.875,"color":"#FF4B12"},{"offset":0.925,"color":"#FF4B12"},{"offset":0.925,"color":"#ffffff"},{"offset":1,"color":"#ffffff"}]}},
        "encoding": {"x": {"field": "g", "type": "nominal", "sort": null}, "xOffset": {"field": "s", "sort": null}, "y": {"field": "v", "type": "quantitative"}}},
       {"data": {"name": "e_cpu"}, "transform": [{"filter": "datum.s == 'Normalized CPU Util' && datum.g == '60GB (60 machines)'"}],
        "mark": {"type": "bar", "stroke": "#000", "strokeWidth": 0.8, "fill": {"gradient": "linear", "x1": 0, "y1": 0, "x2": 0.302, "y2": 1.179, "stops": [{"offset":0,"color":"#FF4B12"},{"offset":0.02,"color":"#FF4B12"},{"offset":0.02,"color":"#ffffff"},{"offset":0.05,"color":"#ffffff"},{"offset":0.05,"color":"#FF4B12"},{"offset":0.07,"color":"#FF4B12"},{"offset":0.07,"color":"#ffffff"},{"offset":0.1,"color":"#ffffff"},{"offset":0.1,"color":"#FF4B12"},{"offset":0.12,"color":"#FF4B12"},{"offset":0.12,"color":"#ffffff"},{"offset":0.15,"color":"#ffffff"},{"offset":0.15,"color":"#FF4B12"},{"offset":0.17,"color":"#FF4B12"},{"offset":0.17,"color":"#ffffff"},{"offset":0.2,"color":"#ffffff"},{"offset":0.2,"color":"#FF4B12"},{"offset":0.22,"color":"#FF4B12"},{"offset":0.22,"color":"#ffffff"},{"offset":0.25,"color":"#ffffff"},{"offset":0.25,"color":"#FF4B12"},{"offset":0.27,"color":"#FF4B12"},{"offset":0.27,"color":"#ffffff"},{"offset":0.3,"color":"#ffffff"},{"offset":0.3,"color":"#FF4B12"},{"offset":0.32,"color":"#FF4B12"},{"offset":0.32,"color":"#ffffff"},{"offset":0.35,"color":"#ffffff"},{"offset":0.35,"color":"#FF4B12"},{"offset":0.37,"color":"#FF4B12"},{"offset":0.37,"color":"#ffffff"},{"offset":0.4,"color":"#ffffff"},{"offset":0.4,"color":"#FF4B12"},{"offset":0.42,"color":"#FF4B12"},{"offset":0.42,"color":"#ffffff"},{"offset":0.45,"color":"#ffffff"},{"offset":0.45,"color":"#FF4B12"},{"offset":0.47,"color":"#FF4B12"},{"offset":0.47,"color":"#ffffff"},{"offset":0.5,"color":"#ffffff"},{"offset":0.5,"color":"#FF4B12"},{"offset":0.52,"color":"#FF4B12"},{"offset":0.52,"color":"#ffffff"},{"offset":0.55,"color":"#ffffff"},{"offset":0.55,"color":"#FF4B12"},{"offset":0.57,"color":"#FF4B12"},{"offset":0.57,"color":"#ffffff"},{"offset":0.6,"color":"#ffffff"},{"offset":0.6,"color":"#FF4B12"},{"offset":0.62,"color":"#FF4B12"},{"offset":0.62,"color":"#ffffff"},{"offset":0.65,"color":"#ffffff"},{"offset":0.65,"color":"#FF4B12"},{"offset":0.67,"color":"#FF4B12"},{"offset":0.67,"color":"#ffffff"},{"offset":0.7,"color":"#ffffff"},{"offset":0.7,"color":"#FF4B12"},{"offset":0.72,"color":"#FF4B12"},{"offset":0.72,"color":"#ffffff"},{"offset":0.75,"color":"#ffffff"},{"offset":0.75,"color":"#FF4B12"},{"offset":0.77,"color":"#FF4B12"},{"offset":0.77,"color":"#ffffff"},{"offset":0.8,"color":"#ffffff"},{"offset":0.8,"color":"#FF4B12"},{"offset":0.82,"color":"#FF4B12"},{"offset":0.82,"color":"#ffffff"},{"offset":0.85,"color":"#ffffff"},{"offset":0.85,"color":"#FF4B12"},{"offset":0.87,"color":"#FF4B12"},{"offset":0.87,"color":"#ffffff"},{"offset":0.9,"color":"#ffffff"},{"offset":0.9,"color":"#FF4B12"},{"offset":0.92,"color":"#FF4B12"},{"offset":0.92,"color":"#ffffff"},{"offset":0.95,"color":"#ffffff"},{"offset":0.95,"color":"#FF4B12"},{"offset":0.97,"color":"#FF4B12"},{"offset":0.97,"color":"#ffffff"},{"offset":1,"color":"#ffffff"}]}},
        "encoding": {"x": {"field": "g", "type": "nominal", "sort": null}, "xOffset": {"field": "s", "sort": null}, "y": {"field": "v", "type": "quantitative"}}}
      ]}
     ],
     "resolve": {"scale": {"y": "independent"}}
    }]
   },
   {"title": {"text": "(f)", "orient": "bottom", "font": "Liberation Serif", "fontSize": 17, "fontWeight": "normal", "offset": 17},
    "spacing": 0,
    "resolve": {"scale": {"color": "independent", "xOffset": "independent"}, "legend": {"color": "independent"}},
    "vconcat": [
    {"width": 1, "height": 1, "data": {"values": []}, "mark": "point", "view": {"stroke": null}},
    {
     "width": 368, "height": 170,
     "title": {"text": "Effect of Sort Order:  X-put scalability", "dx": -38, "offset": 2, "fontSize": 18.3},
     "data": {"name": "f"},
     "layer": [
      {"mark": {"type": "bar"},
       "encoding": {
        "x": {"field": "g", "type": "nominal", "sort": null, "scale": {"paddingInner": 0.43, "paddingOuter": 0.215}, "axis": {"title": null, "labelAngle": 0, "ticks": false, "labelPadding": 15, "labelFontSize": 15.9, "domain": true, "domainColor": "#8C8C8C"}},
        "xOffset": {"field": "s", "sort": null, "scale": {"domain": ["Time taken *","Time taken"], "paddingInner": 0, "paddingOuter": 0}},
        "y": {"field": "v", "type": "quantitative", "scale": {"type": "log", "domain": [1, 1000], "nice": false}, "axis": {"title": "Time taken (mins) Log scale", "format": "d", "values": [1,10,100,1000], "labelOverlap": false, "grid": true, "ticks": false, "labelPadding": 13, "minExtent": 37, "maxExtent": 37, "titlePadding": 8, "titleFontSize": 15.5, "labelFontSize": 13.5}},
        "y2": {"datum": 1},
        "color": {"field": "s", "type": "nominal", "scale": {"domain": ["Time taken *","Time taken"], "range": ["#4F81BD","#D9706D"]},
          "legend": {"title": "* With memory optimization", "titleOrient": "bottom", "titleAnchor": "start", "titleFontSize": 15, "titleFontWeight": "normal", "titlePadding": 0, "titleColor": "#000", "titleLimit": 400, "orient": "none", "direction": "horizontal", "legendX": 30, "legendY": -34, "columns": 2, "columnPadding": 27, "symbolType": "square", "symbolSize": 64, "labelFontSize": 15, "labelOffset": 4}}
       }},
      {"transform": [{"filter": "datum.s == 'Time taken'"}],
       "mark": {"type": "bar", "stroke": "#000", "strokeWidth": 1, "fill": {"gradient": "linear", "x1": 0, "y1": 0, "x2": 0.348, "y2": 1.191, "stops": [{"offset":0,"color":"#C0504D"},{"offset":0.02,"color":"#C0504D"},{"offset":0.02,"color":"#ffffff"},{"offset":0.05,"color":"#ffffff"},{"offset":0.05,"color":"#C0504D"},{"offset":0.07,"color":"#C0504D"},{"offset":0.07,"color":"#ffffff"},{"offset":0.1,"color":"#ffffff"},{"offset":0.1,"color":"#C0504D"},{"offset":0.12,"color":"#C0504D"},{"offset":0.12,"color":"#ffffff"},{"offset":0.15,"color":"#ffffff"},{"offset":0.15,"color":"#C0504D"},{"offset":0.17,"color":"#C0504D"},{"offset":0.17,"color":"#ffffff"},{"offset":0.2,"color":"#ffffff"},{"offset":0.2,"color":"#C0504D"},{"offset":0.22,"color":"#C0504D"},{"offset":0.22,"color":"#ffffff"},{"offset":0.25,"color":"#ffffff"},{"offset":0.25,"color":"#C0504D"},{"offset":0.27,"color":"#C0504D"},{"offset":0.27,"color":"#ffffff"},{"offset":0.3,"color":"#ffffff"},{"offset":0.3,"color":"#C0504D"},{"offset":0.32,"color":"#C0504D"},{"offset":0.32,"color":"#ffffff"},{"offset":0.35,"color":"#ffffff"},{"offset":0.35,"color":"#C0504D"},{"offset":0.37,"color":"#C0504D"},{"offset":0.37,"color":"#ffffff"},{"offset":0.4,"color":"#ffffff"},{"offset":0.4,"color":"#C0504D"},{"offset":0.42,"color":"#C0504D"},{"offset":0.42,"color":"#ffffff"},{"offset":0.45,"color":"#ffffff"},{"offset":0.45,"color":"#C0504D"},{"offset":0.47,"color":"#C0504D"},{"offset":0.47,"color":"#ffffff"},{"offset":0.5,"color":"#ffffff"},{"offset":0.5,"color":"#C0504D"},{"offset":0.52,"color":"#C0504D"},{"offset":0.52,"color":"#ffffff"},{"offset":0.55,"color":"#ffffff"},{"offset":0.55,"color":"#C0504D"},{"offset":0.57,"color":"#C0504D"},{"offset":0.57,"color":"#ffffff"},{"offset":0.6,"color":"#ffffff"},{"offset":0.6,"color":"#C0504D"},{"offset":0.62,"color":"#C0504D"},{"offset":0.62,"color":"#ffffff"},{"offset":0.65,"color":"#ffffff"},{"offset":0.65,"color":"#C0504D"},{"offset":0.67,"color":"#C0504D"},{"offset":0.67,"color":"#ffffff"},{"offset":0.7,"color":"#ffffff"},{"offset":0.7,"color":"#C0504D"},{"offset":0.72,"color":"#C0504D"},{"offset":0.72,"color":"#ffffff"},{"offset":0.75,"color":"#ffffff"},{"offset":0.75,"color":"#C0504D"},{"offset":0.77,"color":"#C0504D"},{"offset":0.77,"color":"#ffffff"},{"offset":0.8,"color":"#ffffff"},{"offset":0.8,"color":"#C0504D"},{"offset":0.82,"color":"#C0504D"},{"offset":0.82,"color":"#ffffff"},{"offset":0.85,"color":"#ffffff"},{"offset":0.85,"color":"#C0504D"},{"offset":0.87,"color":"#C0504D"},{"offset":0.87,"color":"#ffffff"},{"offset":0.9,"color":"#ffffff"},{"offset":0.9,"color":"#C0504D"},{"offset":0.92,"color":"#C0504D"},{"offset":0.92,"color":"#ffffff"},{"offset":0.95,"color":"#ffffff"},{"offset":0.95,"color":"#C0504D"},{"offset":0.97,"color":"#C0504D"},{"offset":0.97,"color":"#ffffff"},{"offset":1,"color":"#ffffff"}]}},
       "encoding": {"x": {"field": "g", "type": "nominal", "sort": null}, "xOffset": {"field": "s", "sort": null}, "y": {"field": "v", "type": "quantitative"}, "y2": {"datum": 1}}},
      {"mark": {"type": "text", "baseline": "bottom", "dy": -3, "dx": -15, "fontSize": 13.5},
       "transform": [{"filter": "datum.s == 'Time taken *'"}],
       "encoding": {"x": {"field": "g", "type": "nominal", "sort": null}, "xOffset": {"field": "s", "sort": null}, "y": {"field": "v", "type": "quantitative"}, "text": {"field": "lbl"}}},
      {"mark": {"type": "text", "baseline": "bottom", "dy": -3, "fontSize": 13.5},
       "transform": [{"filter": "datum.s == 'Time taken'"}],
       "encoding": {"x": {"field": "g", "type": "nominal", "sort": null}, "xOffset": {"field": "s", "sort": null}, "y": {"field": "v", "type": "quantitative"}, "text": {"field": "lbl"}}},
      {"data": {"values": [{"g": "10GB (10 m/cs)", "t": "Scale-up:12X"}]}, "mark": {"type": "text", "baseline": "middle", "fontSize": 13.6},
       "encoding": {"x": {"field": "g", "type": "nominal", "sort": null}, "y": {"datum": 690, "type": "quantitative"}, "text": {"field": "t"}}},
      {"data": {"values": [{"g": "60GB (60 m/cs)", "t": "Scale-up:12.8X"}]}, "mark": {"type": "text", "baseline": "middle", "fontSize": 13.6},
       "encoding": {"x": {"field": "g", "type": "nominal", "sort": null}, "xOffset": {"datum": "Time taken"}, "y": {"datum": 690, "type": "quantitative"}, "text": {"field": "t"}}},
      {"data": {"values": [{"g": "100GB (74 m/cs)", "t": ["Out of", "memory"]}]}, "mark": {"type": "text", "baseline": "middle", "fontSize": 12.5, "lineHeight": 15},
       "encoding": {"x": {"field": "g", "type": "nominal", "sort": null}, "xOffset": {"datum": "Time taken"}, "y": {"datum": 500, "type": "quantitative"}, "text": {"field": "t"}}}
     ]
    }]
   }
  ]}
 ]}
]
}
